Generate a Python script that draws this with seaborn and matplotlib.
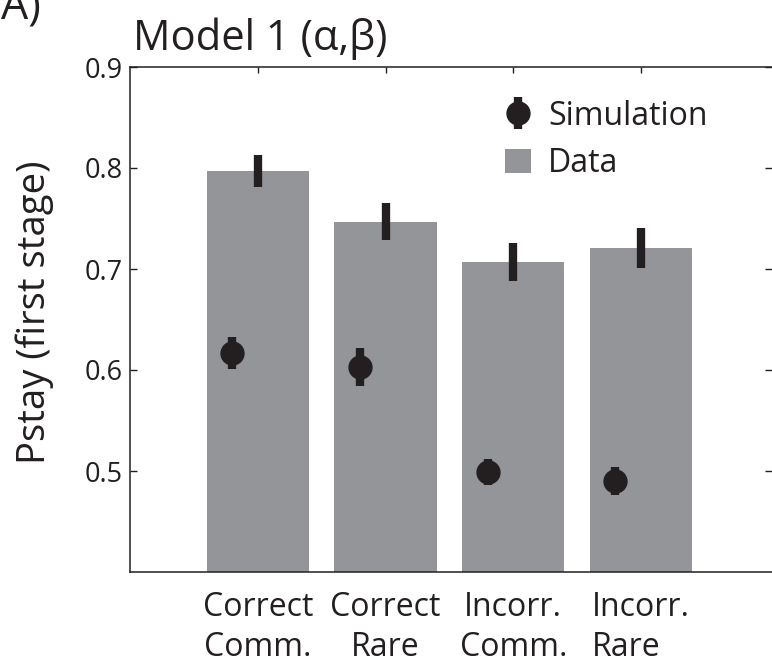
import numpy as np
import pandas as pd
import matplotlib
matplotlib.use("Agg")
import matplotlib.pyplot as plt
import seaborn as sns
from matplotlib.patches import Patch

# Stay probability at the first stage, split by previous outcome / transition type
conditions = ["Correct\nComm.", "Correct\nRare", "Incorr.\nComm.", "Incorr.\nRare"]
data_pstay = [0.797, 0.747, 0.707, 0.721]
data_sem = [0.016, 0.018, 0.019, 0.020]
sim_pstay = [0.617, 0.603, 0.499, 0.490]
sim_sem = [0.016, 0.019, 0.013, 0.014]
y_ticks = [0.5, 0.6, 0.7, 0.8, 0.9]
y_ticklabels = ["0.5", "0.6", "0.7", "0.8", "0.9"]

GRAY = "#939598"
INK = "#231f20"
W, H = 772, 666

sns.set_theme(style="white")
plt.rcParams["font.family"] = ["Open Sans", "DejaVu Sans"]
plt.rcParams["text.color"] = INK

fig = plt.figure(figsize=(W / 100, H / 100), dpi=100)
ax = fig.add_axes([130 / W, 94 / H, 642 / W, 505 / H])

df = pd.DataFrame({"condition": conditions, "pstay": data_pstay})
sns.barplot(data=df, x="condition", y="pstay", order=conditions, color=GRAY,
            saturation=1, width=0.8, errorbar=None, linewidth=0, ax=ax, zorder=1)

xpos = np.arange(len(conditions))
ax.errorbar(xpos, data_pstay, yerr=data_sem, fmt="none", ecolor=INK,
            elinewidth=6, capsize=0, zorder=3)
sim = ax.errorbar(xpos - 0.2, sim_pstay, yerr=sim_sem, fmt="o", color=INK,
                  ms=16.5, elinewidth=6, capsize=0, zorder=4, label="Simulation")

ax.set_xlim(-1.0, 4.025)
ax.set_ylim(0.4, 0.9)
ax.set_xlabel("")
ax.set_ylabel("")

ax.set_xticks(xpos, conditions)
ax.tick_params(axis="x", bottom=False, top=True, direction="in", length=4,
               width=1, color=INK, labelcolor=INK, labelsize=23, pad=14)
for lbl, al in zip(ax.get_xticklabels(), ["center", "center", "center", "left"]):
    lbl.set_multialignment(al)
    lbl.set_linespacing(1.26)

ax.set_yticks(y_ticks, y_ticklabels)
ax.tick_params(axis="y", left=True, right=True, direction="in", length=5,
               width=1, color=INK, labelcolor=INK, labelsize=19.5, pad=5)

for side in ["left", "top", "bottom"]:
    ax.spines[side].set_color(INK)
    ax.spines[side].set_linewidth(1.1)
ax.spines["right"].set_visible(False)

fig.text(35 / W, 1 - 312 / H, "Pstay (first stage)", rotation=90, ha="center",
         va="center", fontsize=27.5, color=INK)
fig.text(133 / W, 1 - 50 / H, "Model 1 (α,β)", ha="left", va="baseline",
         fontsize=30, color=INK)
fig.text(41 / W, 1 - 19 / H, "A)", ha="right", va="baseline", fontsize=31,
         color=INK)

handles = [sim, Patch(facecolor=GRAY, edgecolor="none")]
ax.legend(handles, ["Simulation", "Data"], loc="upper left",
          bbox_to_anchor=(505 / W, 1 - 100 / H), bbox_transform=fig.transFigure,
          frameon=False, fontsize=23, handlelength=0.8, handleheight=0.8,
          handletextpad=0.55, labelspacing=0.45, borderpad=0, borderaxespad=0)

fig.savefig("out.png", dpi=100)
